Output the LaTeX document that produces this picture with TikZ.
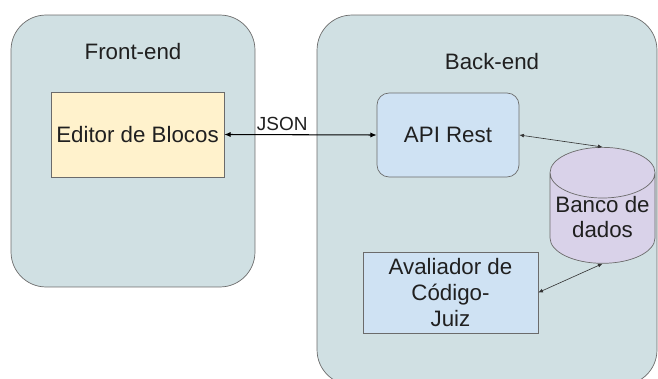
\documentclass[tikz,border=0pt]{standalone}
\usepackage{fontspec}
\setmainfont{Liberation Sans}
\usepackage{tikz}
\usetikzlibrary{arrows.meta, positioning, shapes.geometric}

\definecolor{contfundo}{HTML}{D0E0E3}
\definecolor{borda}{HTML}{6B6B6B}
\definecolor{amarelo}{HTML}{FFF2CC}
\definecolor{azul}{HTML}{CFE2F3}
\definecolor{lilas}{HTML}{D9D2E9}
\definecolor{texto}{HTML}{202020}

\begin{document}
\begin{tikzpicture}[
                    x=0.02cm, y=-0.02cm,
                    container/.style={
                        draw=borda,
                        line width=0.4pt,
                        fill=contfundo,
                        rounded corners=0.7cm,
                        inner sep=0pt
                    },
                    titulo/.style={
                        font=\fontsize{12.7}{15}\selectfont,
                        text=texto
                    },
                    box/.style={
                        draw=borda,
                        line width=0.4pt,
                        align=center,
                        inner sep=2pt,
                        text=texto,
                        font=\fontsize{12.7}{14.7}\selectfont
                    },
                    rotulo/.style={
                        align=center,
                        inner sep=0pt,
                        text=texto,
                        font=\fontsize{12.7}{14.7}\selectfont
                    },
                    banco/.style={
                        box,
                        cylinder,
                        shape border rotate=90,
                        aspect=0.5,
                        fill=lilas,
                        minimum width=2.1cm,
                        minimum height=2.32cm
                    },
                    arrow/.style={
                        {Latex[length=3.6pt,width=3pt]}-{Latex[length=3.6pt,width=3pt]},
                        line width=0.6pt,
                        draw=black
                    },
                    thinarrow/.style={
                        {Latex[length=2.6pt,width=2.2pt]}-{Latex[length=2.6pt,width=2.2pt]},
                        line width=0.35pt,
                        draw=black!80
                    }
                ]

                \useasboundingbox (0,0) rectangle (658,378);
                \clip (0,0) rectangle (658,378);

                % Blocos grandes
                \node[container, minimum width=4.88cm, minimum height=5.44cm] (front) at (133,151) {};
                \node[container, minimum width=6.8cm, minimum height=7.4cm] (back) at (487,200) {};
                \node[titulo] (fronttit) at (133,52) {Front-end};
                \node[titulo] (backtit) at (492,62) {Back-end};

                % Componentes
                \node[box, fill=amarelo, minimum width=3.46cm, minimum height=1.7cm] (editor) at (137.5,134.5) {Editor de Blocos};
                \node[box, fill=azul, rounded corners=0.24cm, minimum width=2.84cm, minimum height=1.68cm] (api) at (448,135) {API Rest};
                \node[banco, anchor=north] (db) at (602.5,147) {\phantom{Banco de}};
                \node[rotulo] (dbtexto) at (602.5,217) {Banco de\\dados};
                \node[box, fill=azul, minimum width=3.5cm, minimum height=1.62cm] (juiz) at (450.5,292.5) {Avaliador de\\Código-\\Juiz};

                % Ligações
                \draw[arrow] (editor.east) -- node[pos=0.38, above, inner sep=2pt, font=\fontsize{10.8}{12}\selectfont, text=texto] (json) {JSON} (api.west);
                \draw[thinarrow] (api.east) -- (db.north);
                \draw[thinarrow] (juiz.east) -- (db.south);

            \end{tikzpicture}
\end{document}
